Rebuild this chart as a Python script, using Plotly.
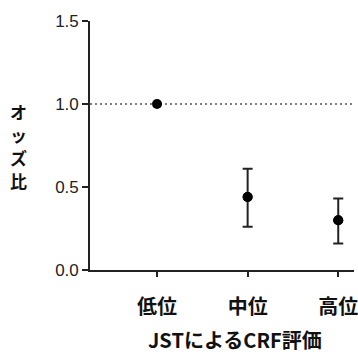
import plotly.graph_objects as go

# Odds ratio by CRF level (reference group = 低位)
categories = ["低位", "中位", "高位"]
odds_ratio = [1.0, 0.44, 0.30]
ci_upper = [None, 0.61, 0.43]
ci_lower = [None, 0.26, 0.16]
y_ticks = [0.0, 0.5, 1.0, 1.5]
y_tick_labels = ["0.0", "0.5", "1.0", "1.5"]
y_title = "オッズ比"
x_title = "JSTによるCRF評価"

AXIS = "#222222"
TICK_FONT = dict(family="Liberation Sans, Arial, sans-serif", size=17, color="#222222")
CAT_FONT = dict(family="Noto Sans CJK JP, sans-serif", size=20, color="#111111", weight="bold")
TITLE_FONT = dict(family="Noto Sans CJK JP, sans-serif", size=20, color="#111111", weight="bold")

fig = go.Figure()

# Reference line at OR = 1
fig.add_shape(type="line", xref="paper", yref="y", x0=0, x1=1, y0=1, y1=1,
              line=dict(color="#555555", width=1.6, dash="2px,3px"), layer="below")

# Confidence intervals (only where defined)
idx = [i for i, u in enumerate(ci_upper) if u is not None]
fig.add_trace(go.Scatter(
    x=[categories[i] for i in idx],
    y=[odds_ratio[i] for i in idx],
    mode="markers",
    marker=dict(size=10, color="black"),
    error_y=dict(type="data", symmetric=False,
                 array=[ci_upper[i] - odds_ratio[i] for i in idx],
                 arrayminus=[odds_ratio[i] - ci_lower[i] for i in idx],
                 color="#222222", thickness=2, width=5),
    showlegend=False, hoverinfo="skip",
))

# Point estimates
fig.add_trace(go.Scatter(
    x=categories, y=odds_ratio, mode="markers",
    marker=dict(size=10, color="black"),
    showlegend=False,
))

# Vertical y-axis title, one character per row
annotations = []
plot_top, plot_bottom = 21, 270
for k, ch in enumerate(y_title):
    py = 111 + 23 * k
    annotations.append(dict(
        text=ch, xref="paper", yref="paper",
        x=-0.27, y=(plot_bottom - py) / (plot_bottom - plot_top),
        xanchor="center", yanchor="middle", showarrow=False,
        font=dict(family="Noto Sans CJK JP, sans-serif", size=17,
                  color="#111111", weight="bold"),
    ))
annotations.append(dict(
    text=x_title, xref="paper", yref="paper",
    x=0.548, y=-0.28, xanchor="center", yanchor="middle",
    showarrow=False, font=TITLE_FONT,
))

fig.update_layout(
    width=358, height=356,
    margin=dict(l=90, r=0, t=21, b=86),
    plot_bgcolor="white", paper_bgcolor="white",
    xaxis=dict(
        type="category", categoryorder="array", categoryarray=categories,
        range=[-0.74, 2.174],
        showline=True, linecolor=AXIS, linewidth=1.6,
        ticks="outside", ticklen=5, tickwidth=1.6, tickcolor=AXIS,
        tickfont=CAT_FONT, showgrid=False, zeroline=False,
        ticklabelstandoff=13,
    ),
    yaxis=dict(
        range=[0, 1.5], tickvals=y_ticks, ticktext=y_tick_labels,
        showline=True, linecolor=AXIS, linewidth=1.6,
        ticks="outside", ticklen=6, tickwidth=1.6, tickcolor=AXIS,
        tickfont=TICK_FONT, showgrid=False, zeroline=False,
        ticklabelstandoff=0,
    ),
    annotations=annotations,
)

fig.write_html("out.html")
